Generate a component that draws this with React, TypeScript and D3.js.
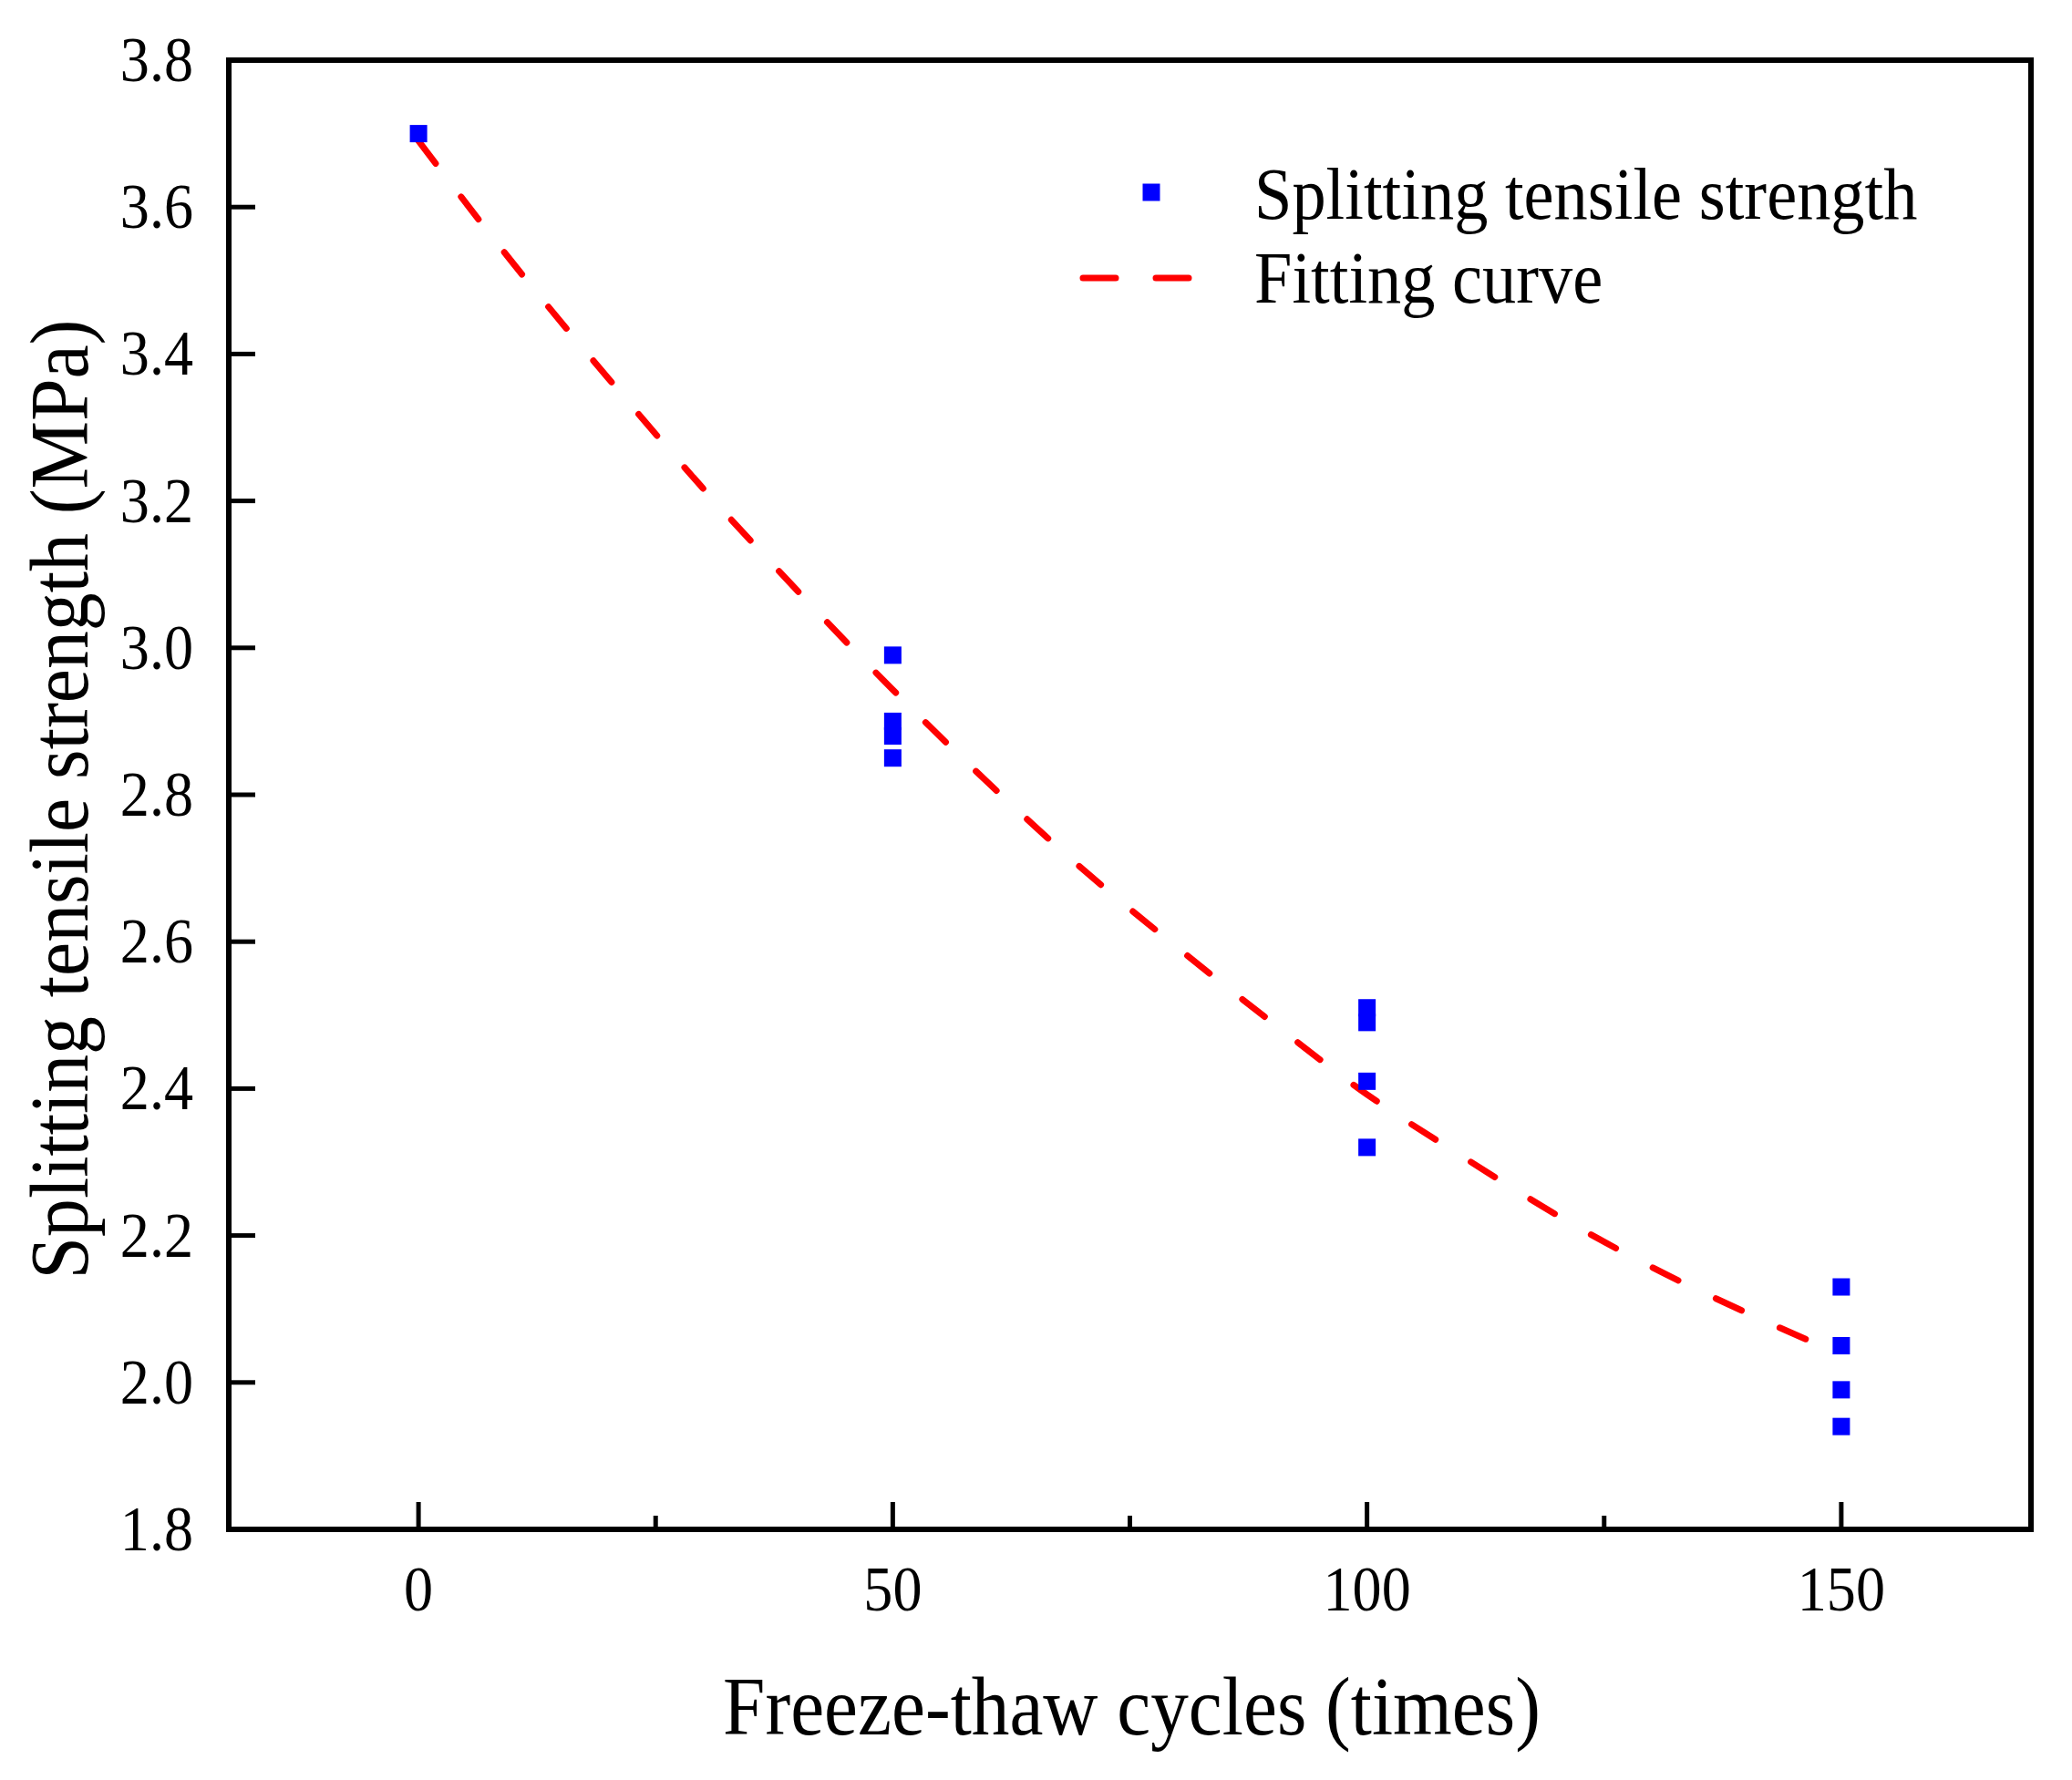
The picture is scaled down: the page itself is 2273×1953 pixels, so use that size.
import * as d3 from "d3";
import React from "react";

const pointCycles = [0, 50, 50, 50, 50, 100, 100, 100, 100, 150, 150, 150, 150];
const pointStrength = [3.7, 2.99, 2.9, 2.88, 2.85, 2.51, 2.49, 2.41, 2.32, 2.13, 2.05, 1.99, 1.94];

// fitting curve
const fitCycles = [0, 10, 20, 30, 40, 50, 60, 70, 80, 90, 100, 110, 120, 130, 140, 150];
const fitStrength = [3.69, 3.523, 3.367, 3.217, 3.077, 2.943, 2.817, 2.699, 2.592, 2.49, 2.392, 2.308, 2.228, 2.157, 2.095, 2.038];

const xTicks = [0, 50, 100, 150];
const xMinorTicks = [25, 75, 125];
const yTicks = [1.8, 2.0, 2.2, 2.4, 2.6, 2.8, 3.0, 3.2, 3.4, 3.6, 3.8];

const seriesNames = ["Splitting tensile strength", "Fitting curve"];
const xTitle = "Freeze-thaw cycles (times)";
const yTitle = "Splitting tensile strength (MPa)";

const W = 2273;
const H = 1953;
const left = 251;
const right = 2228;
const top = 66;
const bottom = 1678;
const font = "'Liberation Serif', 'Times New Roman', serif";
const squeeze = 0.93;

const App: React.FC = () => {
  const x = d3.scaleLinear().domain([-20, 170]).range([left, right]);
  const y = d3.scaleLinear().domain([1.8, 3.8]).range([bottom, top]);

  const line = d3
    .line<number>()
    .x((_, i) => x(fitCycles[i]))
    .y((d) => y(d))
    .curve(d3.curveMonotoneX);

  const sq = 19;

  return (
    <svg
      width={W}
      height={H}
      style={{ position: "absolute", left: 0, top: 0, background: "#fff" }}
      fontFamily={font}
    >
      {/* fitting curve */}
      <path
        d={line(fitStrength) || ""}
        fill="none"
        stroke="#ff0000"
        strokeWidth={7}
        strokeDasharray="31 46"
        strokeLinecap="round"
      />

      {/* points */}
      {pointStrength.map((v, i) => (
        <rect
          key={i}
          x={x(pointCycles[i]) - sq / 2}
          y={y(v) - sq / 2}
          width={sq}
          height={sq}
          fill="#0000ff"
        />
      ))}

      {/* frame */}
      <rect
        x={left}
        y={top}
        width={right - left}
        height={bottom - top}
        fill="none"
        stroke="#000"
        strokeWidth={6}
      />

      {/* x ticks */}
      {xTicks.map((t) => (
        <g key={"x" + t}>
          <line x1={x(t)} x2={x(t)} y1={bottom} y2={bottom - 30} stroke="#000" strokeWidth={5} />
          <g transform={`translate(${x(t)},${1767}) scale(${squeeze},1)`}>
            <text textAnchor="middle" fontSize={69} fill="#000">
              {t}
            </text>
          </g>
        </g>
      ))}
      {xMinorTicks.map((t) => (
        <line key={"xm" + t} x1={x(t)} x2={x(t)} y1={bottom} y2={bottom - 15} stroke="#000" strokeWidth={5} />
      ))}

      {/* y ticks */}
      {yTicks.map((t) => (
        <g key={"y" + t}>
          <line x1={left} x2={left + 29} y1={y(t)} y2={y(t)} stroke="#000" strokeWidth={5} />
          <g transform={`translate(${212},${y(t) + 23}) scale(${squeeze},1)`}>
            <text textAnchor="end" fontSize={69} fill="#000">
              {t.toFixed(1)}
            </text>
          </g>
        </g>
      ))}

      {/* axis titles */}
      <g transform={`translate(${(left + right) / 2 + 2},${1903}) scale(${squeeze - 0.005},1)`}>
        <text textAnchor="middle" fontSize={90} fill="#000">
          {xTitle}
        </text>
      </g>
      <g transform={`translate(${96},${(top + bottom) / 2 + 5}) rotate(-90) scale(${squeeze},1)`}>
        <text textAnchor="middle" fontSize={90} fill="#000">
          {yTitle}
        </text>
      </g>

      {/* legend */}
      <rect x={1263 - sq / 2} y={211 - sq / 2} width={sq} height={sq} fill="#0000ff" />
      <line
        x1={1188}
        x2={1306}
        y1={305}
        y2={305}
        stroke="#ff0000"
        strokeWidth={7}
        strokeDasharray="36 44"
        strokeLinecap="round"
      />
      <g transform={`translate(${1376},${240}) scale(${squeeze},1)`}>
        <text fontSize={80} fill="#000">
          {seriesNames[0]}
        </text>
      </g>
      <g transform={`translate(${1376},${332}) scale(${squeeze},1)`}>
        <text fontSize={80} fill="#000">
          {seriesNames[1]}
        </text>
      </g>
    </svg>
  );
};

export default App;
